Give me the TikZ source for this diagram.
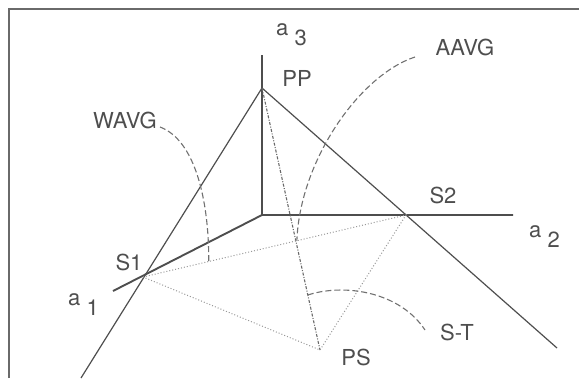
\documentclass[tikz,border=0pt]{standalone}
\usepackage{fontspec}
\setmainfont{TeX Gyre Heros}
\usetikzlibrary{calc}
\definecolor{Ink}{HTML}{4E4E4E}
\definecolor{Pale}{HTML}{999999}
\definecolor{Rule}{HTML}{6A6A6A}

\begin{document}
\begin{tikzpicture}[x=1pt,y=-1pt,
    axisline/.style={Ink,line width=1.9pt},
    spoke/.style={Ink,line width=1.2pt},
    hull/.style={Pale,line width=1pt,dotted},
    arcline/.style={Ink!80,line width=1.1pt,dash pattern=on 6pt off 3pt},
    lbl/.style={text=Ink,font=\fontsize{22}{25}\selectfont,inner sep=0pt}]
  \useasboundingbox (0,0) rectangle (579,378);
  \draw[Rule,line width=1.3pt] (9,378) -- (9,9) -- (579,9);
  % points of the picture
  \coordinate (O) at (262,215);
  \coordinate (A1) at (113,291);
  \coordinate (A2) at (513,215);
  \coordinate (A3) at (262,55);
  \coordinate (PP) at (262,88);
  \coordinate (S1) at (143,277);
  \coordinate (S2) at (406,215);
  \coordinate (PS) at (320,350);
  \coordinate (L1) at (81,378);
  \coordinate (L2) at (557,348);
  \coordinate (W) at ($(S1)!0.25!(S2)$);
  \coordinate (A) at ($(S1)!0.585!(S2)$);
  \coordinate (T) at ($(PP)!0.79!(PS)$);
  % axes
  \draw[axisline] (A1) -- (O) -- (A2);
  \draw[axisline] (O) -- (A3);
  % lines through PP
  \draw[spoke] (PP) -- (L1);
  \draw[spoke] (PP) -- (L2);
  \draw[Ink!85,line width=1.1pt,dash pattern=on 3pt off 1.5pt on 1pt off 1.5pt] (PP) -- (PS);
  \draw[hull] (S1) -- (S2) -- (PS) -- cycle;
  % arcs
  \draw[arcline] (160,127) .. controls (195,140) and (209,200) .. (W);
  \draw[arcline] (415,57) .. controls (360,75) and (300,160) .. (A);
  \draw[arcline] (T) .. controls (345,283) and (400,292) .. (425,330);
  % labels
  \node[lbl,anchor=base west] (a3) at (276,35) {a \raisebox{-10pt}{3}};
  \node[lbl,anchor=base west] (a2) at (529,237) {a \raisebox{-10pt}{2}};
  \node[lbl,anchor=base west] (a1) at (68,305) {a \raisebox{-10pt}{1}};
  \node[lbl] (pp) at (297,78) {PP};
  \node[lbl] (aavg) at (465,47) {AAVG};
  \node[lbl] (wavg) at (125,120) {WAVG};
  \node[lbl] (s1) at (129,262) {S1};
  \node[lbl] (s2) at (443,195) {S2};
  \node[lbl] (st) at (457,332) {S-T};
  \node[lbl] (ps) at (356,357) {PS};
\end{tikzpicture}
\end{document}
